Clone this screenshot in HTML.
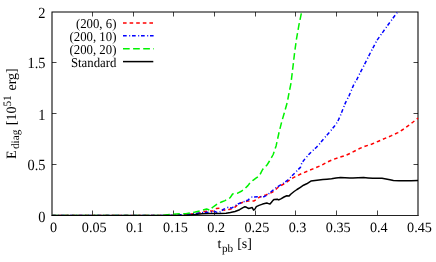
<!DOCTYPE html>
<html><head><meta charset="utf-8"><style>
html,body{margin:0;padding:0;background:#fff;}
svg{display:block;will-change:transform;font-family:"Liberation Serif",serif;font-size:14.4px;fill:#000;text-rendering:geometricPrecision;}
</style></head><body>
<svg width="436" height="262" viewBox="0 0 436 262">
<rect width="436" height="262" fill="#fff"/>
<g fill="none" stroke="#444" stroke-width="1"><path d="M92.50,215v-4.5M92.50,12v4.5"/><path d="M133.50,215v-4.5M133.50,12v4.5"/><path d="M173.50,215v-4.5M173.50,12v4.5"/><path d="M214.50,215v-4.5M214.50,12v4.5"/><path d="M255.50,215v-4.5M255.50,12v4.5"/><path d="M295.50,215v-4.5M295.50,12v4.5"/><path d="M336.50,215v-4.5M336.50,12v4.5"/><path d="M377.50,215v-4.5M377.50,12v4.5"/><path d="M52,164.50h4.5M418,164.50h-4.5"/><path d="M52,113.50h4.5M418,113.50h-4.5"/><path d="M52,62.50h4.5M418,62.50h-4.5"/>
<path d="M52,216V12H418V216" stroke="#000" stroke-width="1.05"/><path d="M51.5,215.5H418.5" stroke="#222"/>
</g>
<clipPath id="c"><rect x="51" y="11" width="368" height="205"/></clipPath>
<g fill="none" stroke-width="1.5" stroke-linejoin="round" clip-path="url(#c)">
<path d="M52.0,215.5 L170.0,215.5 L182.0,214.6 L190.0,214.1 L196.0,213.5 L198.6,213.2 L204.3,211.5 L209.0,211.1 L213.5,210.9 L216.4,208.6 L220.4,208.0 L222.7,209.8 L225.6,210.3 L229.0,209.4 L231.9,208.6 L234.7,207.4 L237.0,205.4 L240.3,203.2 L244.0,201.9 L247.9,200.9 L251.0,201.0 L254.1,200.9 L257.0,199.0 L259.7,197.0 L265.9,195.0 L272.1,192.3 L275.0,190.3 L277.3,188.0 L281.0,185.5 L284.7,183.5 L288.0,181.2 L292.0,178.4 L297.0,175.8 L302.5,173.2 L308.0,170.9 L313.0,168.9 L321.6,165.3 L327.0,162.2 L333.0,159.5 L340.0,157.2 L346.0,155.3 L352.5,152.2 L359.0,148.8 L365.0,146.3 L372.0,144.0 L378.5,141.2 L385.0,138.4 L391.5,135.6 L398.0,132.6 L403.0,129.5 L407.7,126.1 L412.5,122.5 L418.0,118.2" stroke="#ff0000" stroke-dasharray="3.6,3"/>
<path d="M52.0,215.5 L170.0,215.5 L182.0,214.6 L194.0,213.7 L203.2,212.6 L210.1,212.1 L214.7,211.5 L217.0,212.4 L219.3,212.6 L221.5,210.8 L223.8,209.2 L227.3,207.5 L231.9,208.0 L235.3,205.7 L238.0,204.0 L241.8,202.4 L247.9,200.1 L250.0,198.4 L252.1,197.0 L258.4,196.8 L263.7,196.8 L266.5,195.4 L268.9,193.6 L272.0,191.0 L275.2,188.4 L279.5,185.6 L283.6,183.1 L287.8,180.0 L291.0,176.9 L294.1,173.7 L297.2,170.5 L300.4,167.4 L301.8,163.0 L305.0,158.8 L308.5,154.8 L312.0,151.3 L316.5,147.3 L320.0,143.3 L323.8,138.7 L327.7,134.2 L331.3,130.1 L335.0,125.5 L337.7,121.5 L340.0,116.5 L342.0,111.5 L345.4,102.9 L349.1,95.6 L354.5,83.0 L356.6,80.0 L360.0,73.0 L363.5,66.4 L370.4,52.7 L376.8,40.6 L383.2,31.6 L390.5,21.5 L397.5,12.0" stroke="#0000ff" stroke-dasharray="3.7,2.5,1,1.8"/>
<path d="M52.0,215.5 L160.0,215.5 L170.0,214.6 L176.4,213.9 L186.0,213.8 L191.7,212.6 L195.2,212.1 L199.8,210.9 L206.6,209.0 L210.1,210.3 L212.4,207.5 L215.0,205.6 L218.1,203.5 L221.5,202.0 L225.0,200.6 L230.2,197.7 L232.6,194.0 L237.2,193.3 L241.8,191.0 L245.0,188.5 L247.9,185.6 L250.0,182.8 L253.0,180.3 L256.3,177.9 L259.5,175.8 L261.0,172.6 L262.6,169.5 L264.7,167.2 L266.8,165.3 L269.5,161.0 L273.2,154.5 L276.1,145.9 L278.9,133.0 L281.8,121.5 L284.7,111.5 L287.5,101.5 L288.5,95.6 L290.9,83.6 L292.6,69.9 L294.6,52.7 L296.5,38.9 L298.9,25.2 L301.6,12.0" stroke="#00f200" stroke-dasharray="6.7,3.4"/>
<path d="M52.0,215.5 L185.0,215.5 L195.0,214.6 L202.0,213.8 L210.0,213.5 L220.0,213.5 L226.1,213.3 L230.4,212.6 L235.0,211.5 L239.6,209.7 L243.0,207.6 L244.9,206.7 L246.5,207.3 L248.7,208.5 L250.5,208.0 L252.2,207.6 L253.6,210.2 L255.0,209.0 L256.3,206.6 L259.0,205.4 L262.6,204.1 L266.8,203.0 L268.5,203.6 L270.0,204.1 L271.5,202.3 L273.0,200.4 L274.2,199.4 L277.3,199.2 L278.8,199.9 L281.3,198.6 L284.0,197.0 L286.8,195.7 L288.9,196.1 L291.0,194.0 L294.1,191.5 L297.0,189.5 L300.4,187.3 L303.5,185.2 L306.7,183.8 L310.9,181.1 L317.0,180.2 L322.9,179.5 L327.0,179.2 L331.5,178.8 L336.0,178.1 L340.6,177.5 L345.0,177.8 L349.8,178.1 L353.0,178.1 L358.0,177.8 L363.6,177.5 L368.0,177.9 L372.8,178.3 L382.0,178.3 L386.0,178.9 L390.0,179.8 L393.4,180.6 L399.0,180.8 L402.6,180.8 L411.0,180.7 L418.0,180.6" stroke="#000"/>
</g>
<text font-size="14.2" transform="translate(53.5,232.2)" text-anchor="middle">0</text><text font-size="14.2" transform="translate(94.2,232.2)" text-anchor="middle">0.05</text><text font-size="14.2" transform="translate(134.8,232.2)" text-anchor="middle">0.1</text><text font-size="14.2" transform="translate(175.5,232.2)" text-anchor="middle">0.15</text><text font-size="14.2" transform="translate(216.2,232.2)" text-anchor="middle">0.2</text><text font-size="14.2" transform="translate(256.8,232.2)" text-anchor="middle">0.25</text><text font-size="14.2" transform="translate(297.5,232.2)" text-anchor="middle">0.3</text><text font-size="14.2" transform="translate(338.2,232.2)" text-anchor="middle">0.35</text><text font-size="14.2" transform="translate(378.8,232.2)" text-anchor="middle">0.4</text><text font-size="14.2" transform="translate(419.5,232.2)" text-anchor="middle">0.45</text>
<text transform="translate(45.5,221.5) scale(1,1.08)" text-anchor="end">0</text><text transform="translate(45.5,170.0) scale(1,1.08)" text-anchor="end">0.5</text><text transform="translate(45.5,119.5) scale(1,1.08)" text-anchor="end">1</text><text transform="translate(45.5,68.3) scale(1,1.08)" text-anchor="end">1.5</text><text transform="translate(45.5,18.0) scale(1,1.08)" text-anchor="end">2</text>
<g font-size="12.8" text-anchor="end"><text transform="translate(116.4,27.8) scale(1,1.05)">(200, 6)</text>
<text transform="translate(116.4,40.8) scale(1,1.05)">(200, 10)</text>
<text transform="translate(116.4,53.8) scale(1,1.05)">(200, 20)</text>
<text transform="translate(116.4,66.8) scale(1,1.05)">Standard</text></g>
<g fill="none" stroke-width="1.5">
<path d="M123,22.95h30.6" stroke="#ff0000" stroke-dasharray="3.6,3"/>
<path d="M123,35.8h30.6" stroke="#0000ff" stroke-dasharray="3.7,2.5,1,1.8"/>
<path d="M123,48.8h30.9" stroke="#00f200" stroke-dasharray="6.7,3.4"/>
<path d="M123,61.6h30.3" stroke="#000"/>
</g>
<text font-size="14" transform="translate(217.5,248.0) scale(1,1.0)">t<tspan font-size="11.2" dx="0.6" dy="3.6">pb</tspan><tspan dx="0.5" dy="-3.6"> [s]</tspan></text>
<text font-size="14" transform="translate(16.0,158.9) rotate(-90) scale(1,1.02)">E<tspan font-size="11.2" dx="1.3" dy="3.3">diag</tspan><tspan dx="1.1" dy="-3.3"> [10</tspan><tspan font-size="11.2" dy="-5.3">51</tspan><tspan dx="1.3" dy="5.3"> erg]</tspan></text>
</svg>
</body></html>
